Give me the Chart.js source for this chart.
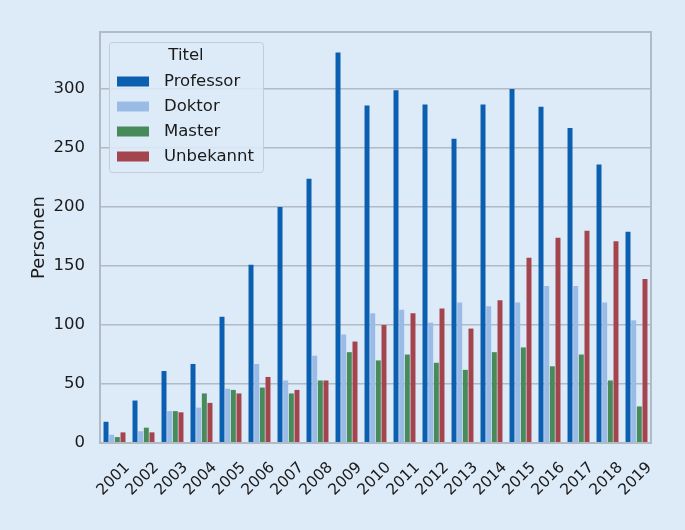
<!DOCTYPE html>
<html>
<head>
<meta charset="utf-8">
<script src="https://cdn.jsdelivr.net/npm/chart.js@4.4.1/dist/chart.umd.min.js"></script>
<style>
    html, body { margin: 0; padding: 0; background: #ddeaf8; }
    #box { width: 685px; height: 530px; }
</style>
</head>
<body>
<div id="box"><canvas id="grafico"></canvas></div>
<script>
// Daten
const jahre = ["2001", "2002", "2003", "2004", "2005", "2006", "2007", "2008", "2009", "2010",
               "2011", "2012", "2013", "2014", "2015", "2016", "2017", "2018", "2019"];
const professor = [18, 36, 61, 67, 107, 151, 200, 224, 331, 286, 299, 287, 258, 287, 300, 285, 267, 236, 179];
const doktor    = [7, 10, 27, 30, 46, 67, 53, 74, 92, 110, 113, 102, 119, 116, 119, 133, 133, 119, 104];
const master    = [5, 13, 27, 42, 45, 47, 42, 53, 77, 70, 75, 68, 62, 77, 81, 65, 75, 53, 31];
const unbekannt = [9, 9, 26, 34, 42, 56, 45, 53, 86, 100, 110, 114, 97, 121, 157, 174, 180, 171, 139];
const yTicks = [0, 50, 100, 150, 200, 250, 300];

const serien = [
    { label: "Professor", data: professor, color: "#0b5fb0" },
    { label: "Doktor", data: doktor, color: "#9bbbe7" },
    { label: "Master", data: master, color: "#488b5a" },
    { label: "Unbekannt", data: unbekannt, color: "#a4454e" }
];

const schrift = "'DejaVu Sans', sans-serif";
const textFarbe = "#1a1a1a";
const rahmenFarbe = "#b2bac4";

// Rahmen, gedrehte Jahreszahlen und Legende selbst zeichnen
const rahmenUndLegende = {
    id: "rahmenUndLegende",
    afterDraw(chart) {
        const ctx = chart.ctx;
        const a = chart.chartArea;
        const xScale = chart.scales.x;
        ctx.save();
        ctx.strokeStyle = rahmenFarbe;
        ctx.lineWidth = 2;
        ctx.strokeRect(a.left, a.top, a.right - a.left, a.bottom - a.top);

        // Jahreszahlen, 45 Grad, mittig unter dem Tick
        ctx.font = "15.5px " + schrift;
        ctx.fillStyle = textFarbe;
        ctx.textAlign = "center";
        ctx.textBaseline = "middle";
        jahre.forEach((j, i) => {
            const x = xScale.getPixelForValue(i);
            ctx.save();
            ctx.translate(x - 1, a.bottom + 36);
            ctx.rotate(-Math.PI / 4);
            ctx.fillText(j, 0, 0);
            ctx.restore();
        });

        // Legende
        const lx = 109, ly = 42, lw = 154, lh = 130;
        ctx.fillStyle = "rgba(221,234,248,0.85)";
        ctx.strokeStyle = "#c4ccd6";
        ctx.lineWidth = 1;
        ctx.beginPath();
        ctx.roundRect(lx + 0.5, ly + 0.5, lw, lh, 3);
        ctx.fill();
        ctx.stroke();

        ctx.font = "16.5px " + schrift;
        ctx.fillStyle = textFarbe;
        ctx.textBaseline = "middle";
        ctx.textAlign = "center";
        ctx.fillText("Titel", lx + lw / 2, ly + 14);
        ctx.textAlign = "left";
        serien.forEach((s, i) => {
            const y = ly + 39.5 + i * 25;
            ctx.fillStyle = s.color;
            ctx.fillRect(lx + 8, y - 5, 32, 10);
            ctx.fillStyle = textFarbe;
            ctx.fillText(s.label, lx + 55, y);
        });
        ctx.restore();
    }
};

const dados = {
    labels: jahre,
    datasets: serien.map(s => ({
        label: s.label,
        data: s.data,
        backgroundColor: s.color,
        borderWidth: 0,
        categoryPercentage: 0.78,
        barPercentage: 0.88
    }))
};

const config = {
    type: "bar",
    data: dados,
    options: {
        responsive: true,
        maintainAspectRatio: false,
        animation: false,
        layout: { padding: { left: 0, right: 34, top: 32, bottom: 0 } },
        plugins: {
            legend: { display: false },
            tooltip: { enabled: false }
        },
        scales: {
            x: {
                grid: { display: false, drawTicks: false },
                border: { display: false },
                ticks: { display: false, autoSkip: false },
                afterFit(scale) { scale.height = 87; }
            },
            y: {
                min: 0,
                max: 348.4,
                grid: { color: rahmenFarbe, lineWidth: 1.5, drawTicks: false },
                border: { display: false },
                afterBuildTicks(scale) {
                    scale.ticks = yTicks.map(v => ({ value: v }));
                },
                ticks: {
                    color: textFarbe,
                    font: { family: schrift, size: 16.5 },
                    padding: 15
                },
                title: {
                    display: true,
                    text: "Personen",
                    color: textFarbe,
                    font: { family: schrift, size: 18 },
                    padding: { top: 29, bottom: 0 }
                },
                afterFit(scale) { scale.width = 100; }
            }
        }
    },
    plugins: [rahmenUndLegende]
};

const grafico = new Chart(document.getElementById("grafico").getContext("2d"), config);
</script>
</body>
</html>
